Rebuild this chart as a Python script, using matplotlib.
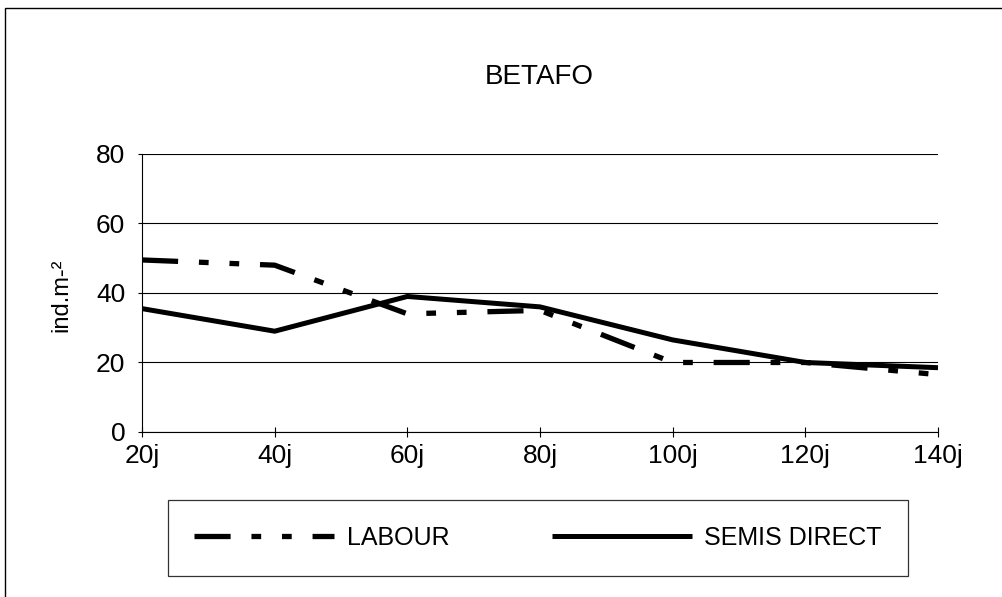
import matplotlib
matplotlib.use("Agg")
import matplotlib.pyplot as plt
from matplotlib.patches import Rectangle

plt.rcParams.update({
    "font.family": ["Liberation Sans", "DejaVu Sans"],
    "lines.scale_dashes": False,
})

days = ["20j", "40j", "60j", "80j", "100j", "120j", "140j"]
labour = [49.5, 48, 34, 35, 20, 20, 16.5]
semis_direct = [35.5, 29, 39, 36, 26.5, 20, 18.5]
y_ticks = [0, 20, 40, 60, 80]

fig = plt.figure(figsize=(10.03, 5.97), dpi=100)
ax = fig.add_axes([0.1416, 0.2764, 0.7936, 0.4657])

x = list(range(len(days)))
ax.plot(x, labour, color="black", lw=3.8, solid_capstyle="butt",
        dash_capstyle="butt", dashes=(26, 15, 7, 15, 7, 15),
        label="LABOUR")
ax.plot(x, semis_direct, color="black", lw=3.6, solid_capstyle="butt",
        label="SEMIS DIRECT")

ax.set_xlim(0, len(days) - 1)
ax.set_ylim(0, 80)
ax.set_xticks(x)
ax.set_xticklabels(days)
ax.set_yticks(y_ticks)
ax.tick_params(axis="x", direction="inout", length=7, width=0.8,
               labelsize=19, pad=5)
ax.tick_params(axis="y", direction="out", length=3, width=0.8,
               labelsize=19, pad=9)
ax.grid(axis="y", color="black", lw=0.8)
ax.set_axisbelow(True)
for side in ("top", "right"):
    ax.spines[side].set_visible(False)
for side in ("left", "bottom"):
    ax.spines[side].set_linewidth(0.8)

ax.set_ylabel("ind.m-²", fontsize=17)
ax.yaxis.set_label_coords(-0.087, 0.493)
fig.text(0.538, 0.871, "BETAFO", ha="center", va="center", fontsize=20)

leg = fig.legend(loc="center", bbox_to_anchor=(0.5364, 0.0988), ncol=2,
                 fontsize=18, frameon=True, fancybox=False, edgecolor="black",
                 handlelength=5.6, handletextpad=0.5, columnspacing=4.1,
                 borderpad=1.05, borderaxespad=0)
leg.get_frame().set_linewidth(0.9)

# outer chart frame
fig.add_artist(Rectangle((0.005, -0.2), 1.2, 0.2 + 1 - 8 / 597,
                         transform=fig.transFigure, fill=False,
                         edgecolor="black", lw=1.0))

fig.savefig("out.png", dpi=100)
